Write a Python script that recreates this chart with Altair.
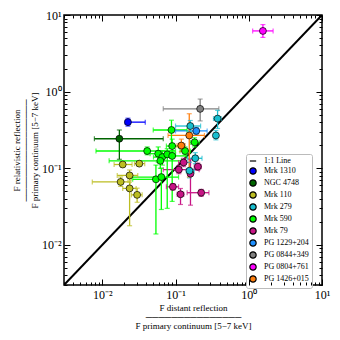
import altair as alt
import pandas as pd

SOURCES = ["Mrk 1310", "NGC 4748", "Mrk 110", "Mrk 279", "Mrk 590", "Mrk 79",
           "PG 1229+204", "PG 0844+349", "PG 0804+761", "PG 1426+015"]
COLORS = ["#0000ff", "#006400", "#bcbd22", "#17becf", "#00ff00", "#c71585",
          "#1e90ff", "#808080", "#ff00ff", "#ff7f0e"]

src = (["Mrk 1310"] + ["NGC 4748"] + ["Mrk 110"] * 6 + ["Mrk 590"] * 12
       + ["Mrk 79"] * 7 + ["Mrk 279"] * 5 + ["PG 1229+204"] + ["PG 0844+349"]
       + ["PG 0804+761"] + ["PG 1426+015"] * 2)
x = [0.0224, 0.0171,
     0.019, 0.032, 0.0178, 0.0236, 0.0236, 0.0299,
     0.088, 0.041, 0.058, 0.066, 0.077, 0.09, 0.062, 0.09, 0.135, 0.182, 0.054, 0.064,
     0.129, 0.111, 0.2018, 0.092, 0.117, 0.224, 0.16,
     0.375, 0.356, 0.186, 0.155, 0.159,
     0.192, 0.217, 1.56, 0.154, 0.12]
x_lo = [0.0205, 0.0078,
        0.0145, 0.0275, 0.0073, 0.016, 0.019, 0.025,
        0.0496, 0.0082, 0.045, 0.05, 0.055, 0.07, 0.0124, 0.075, 0.115, 0.16, 0.026, 0.025,
        0.11, 0.068, 0.18, 0.075, 0.105, 0.144, 0.15,
        0.33, 0.33, 0.145, 0.14, 0.10,
        0.10, 0.068, 1.13, 0.079, 0.105]
x_hi = [0.0386, 0.068,
        0.0255, 0.038, 0.024, 0.0305, 0.029, 0.035,
        0.1435, 0.10, 0.075, 0.09, 0.10, 0.14, 0.12, 0.11, 0.16, 0.21, 0.065, 0.11,
        0.16, 0.21, 0.225, 0.11, 0.13, 0.286, 0.17,
        0.42, 0.385, 0.23, 0.18, 0.22,
        0.27, 0.39, 2.15, 0.248, 0.135]
y = [0.40, 0.243,
     0.112, 0.115, 0.0664, 0.0807, 0.0546, 0.045,
     0.316, 0.168, 0.155, 0.14, 0.152, 0.145, 0.125, 0.195, 0.168, 0.218, 0.0718, 0.0768,
     0.119, 0.096, 0.105, 0.0573, 0.0458, 0.048, 0.085,
     0.445, 0.268, 0.135, 0.093, 0.356,
     0.307, 0.596, 6.2, 0.268, 0.198]
y_lo = [0.355, 0.131,
        0.104, 0.107, 0.058, 0.07, 0.0178, 0.036,
        0.194, 0.15, 0.12, 0.11, 0.03, 0.037, 0.10, 0.16, 0.15, 0.19, 0.0139, 0.029,
        0.105, 0.085, 0.094, 0.052, 0.0337, 0.043, 0.033,
        0.33, 0.235, 0.115, 0.075, 0.30,
        0.28, 0.415, 5.1, 0.077, 0.165]
y_hi = [0.45, 0.316,
        0.12, 0.123, 0.077, 0.095, 0.066, 0.055,
        0.424, 0.19, 0.19, 0.17, 0.18, 0.17, 0.15, 0.24, 0.19, 0.25, 0.11, 0.10,
        0.135, 0.108, 0.117, 0.063, 0.0545, 0.053, 0.13,
        0.57, 0.31, 0.16, 0.12, 0.42,
        0.34, 0.80, 7.5, 0.515, 0.24]

line_x = [0.003, 10]
line_y = [0.003, 10]

df = pd.DataFrame(dict(source=src, x=x, x_lo=x_lo, x_hi=x_hi, y=y, y_lo=y_lo, y_hi=y_hi))
line_df = pd.DataFrame(dict(x=line_x, y=line_y))

W, H = 258, 270
FONT = "Liberation Serif"

legend_order = ["1:1 Line"] + SOURCES
cscale = alt.Scale(domain=legend_order, range=["black"] + COLORS)
sscale = alt.Scale(domain=legend_order, range=["stroke"] + ["circle"] * len(SOURCES))
xs = alt.Scale(type="log", domain=[0.003, 10], nice=False)
ys = alt.Scale(type="log", domain=[0.003, 10], nice=False)

tick_vals = [k * 10.0 ** e for e in range(-3, 1) for k in range(1, 10) if k * 10.0 ** e >= 0.003] + [10.0]
major_vals = [0.01, 0.1, 1.0, 10.0]
label_expr = ("datum.value < 0.05 ? '10\u207b\u00b2' : datum.value < 0.5 ? '10\u207b\u00b9' : "
              "datum.value < 5 ? '10\u2070' : '10\u00b9'")
is_major = "abs(log(datum.value)/LN10 - round(log(datum.value)/LN10)) < 0.001"
tsize = {"condition": {"test": is_major, "value": 6}, "value": 3}

x_title = ["F distant reflection", "\u2500" * 15, "F primary continuum    [5\u22127 keV]"]
y_title = ["F relativistic reflection", "\u2500" * 16, "F primary continuum    [5\u22127 keV]"]


def tick_axis(orient, offset):
    return alt.Axis(orient=orient, offset=offset, values=tick_vals, labels=False, title=None,
                    domain=False, grid=False, ticks=True, tickSize=tsize, tickColor="black",
                    tickWidth=1, zindex=2)


lab_x = alt.Axis(orient="bottom", values=major_vals, labelExpr=label_expr, ticks=False,
                 domain=False, grid=False, title=x_title, labelFont=FONT, labelFontSize=12,
                 labelColor="black", labelPadding=4, titleFont=FONT, titleFontSize=9,
                 titleFontWeight="normal", titleColor="black", titleLineHeight=9,
                 titlePadding=3, labelFlush=False)
lab_y = alt.Axis(orient="left", values=major_vals, labelExpr=label_expr, ticks=False,
                 domain=False, grid=False, title=y_title, labelFont=FONT, labelFontSize=12,
                 labelColor="black", labelPadding=3, titleFont=FONT, titleFontSize=9,
                 titleFontWeight="normal", titleColor="black", titleLineHeight=9,
                 titlePadding=2, labelFlush=False)

line = alt.Chart(line_df).mark_line(color="black", strokeWidth=2, clip=True).encode(
    x=alt.X("x:Q", scale=xs, axis=lab_x),
    y=alt.Y("y:Q", scale=ys, axis=lab_y),
)

xerr = alt.Chart(df).mark_rule(strokeWidth=1.3).encode(
    x=alt.X("x_lo:Q", scale=xs, axis=None),
    x2="x_hi:Q",
    y=alt.Y("y:Q", scale=ys, axis=None),
    color=alt.Color("source:N", scale=cscale, legend=None),
)
yerr = alt.Chart(df).mark_rule(strokeWidth=1.3).encode(
    x=alt.X("x:Q", scale=xs, axis=None),
    y=alt.Y("y_lo:Q", scale=ys, axis=None),
    y2="y_hi:Q",
    color=alt.Color("source:N", scale=cscale, legend=None),
)

cap_specs = [("x_lo", "y", "vertical", ("top", "right")),
             ("x_hi", "y", "vertical", ("bottom", "left")),
             ("x", "y_lo", "horizontal", None),
             ("x", "y_hi", "horizontal", None)]
caps = []
for xf, yf, orient, axes in cap_specs:
    if axes:
        ax_x = tick_axis(axes[0], -H)
        ax_y = tick_axis(axes[1], -W)
    else:
        ax_x = None
        ax_y = None
    caps.append(alt.Chart(df).mark_tick(orient=orient, size=5, thickness=1.2).encode(
        x=alt.X(f"{xf}:Q", scale=xs, axis=ax_x),
        y=alt.Y(f"{yf}:Q", scale=ys, axis=ax_y),
        color=alt.Color("source:N", scale=cscale, legend=None),
    ))

leg = dict(orient="none", legendX=182, legendY=139, title=None, fillColor="white",
           strokeColor="#bbbbbb", padding=3, cornerRadius=2, labelFont=FONT,
           labelFontSize=8, labelColor="black", symbolSize=40, rowPadding=0,
           symbolStrokeWidth=1.2, labelOffset=7, symbolStrokeColor="black")

points = alt.Chart(df).mark_point(filled=True, size=48, stroke="black", strokeWidth=0.7,
                                  opacity=1).encode(
    x=alt.X("x:Q", scale=xs, axis=None),
    y=alt.Y("y:Q", scale=ys, axis=None),
    color=alt.Color("source:N", scale=cscale, legend=alt.Legend(**leg)),
    shape=alt.Shape("source:N", scale=sscale, legend=alt.Legend(**leg)),
)

chart = alt.layer(line, xerr, yerr, *caps, points).resolve_axis(
    x="independent", y="independent"
).resolve_scale(color="independent", shape="independent").properties(
    width=W, height=H,
    autosize=alt.AutoSizeParams(type="none"),
    padding={"left": 56, "top": 7, "right": 10, "bottom": 50},
).configure_view(stroke="black", strokeWidth=1.5)

chart.save("out.html", embed_options={"renderer": "svg", "actions": False})
